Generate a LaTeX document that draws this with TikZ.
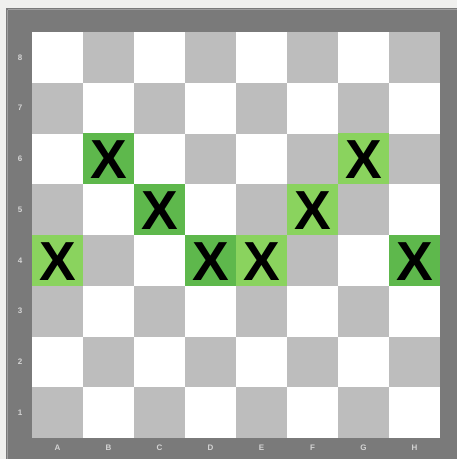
\documentclass[tikz,border=0pt]{standalone}
\usepackage{fontspec}
\setmainfont{Liberation Sans}
\definecolor{bgc}{HTML}{F0F0EE}
\definecolor{framec}{HTML}{7A7A7A}
\definecolor{frameline}{HTML}{A0A0A0}
\definecolor{darksq}{HTML}{BDBDBD}
\definecolor{lightsq}{HTML}{FFFFFF}
\definecolor{greenlight}{HTML}{8AD35E}
\definecolor{greendark}{HTML}{5EB84C}
\definecolor{labelc}{HTML}{D4D4D4}
\tikzset{
  sq/.style={inner sep=0pt, minimum width=51pt, minimum height=50.75pt, draw=none},
  xmark/.style={font=\fontsize{55}{55}\selectfont\bfseries, text=black, inner sep=0pt},
  rlabel/.style={font=\fontsize{8}{8}\selectfont\bfseries, text=labelc, inner sep=0pt},
}
\begin{document}
\begin{tikzpicture}[x=1pt,y=-1pt]
\useasboundingbox (0,0) rectangle (457,459);
\fill[bgc] (0,0) rectangle (457,459);
\fill[framec] (6,8) rectangle (457,459);
\draw[frameline, line width=1.2pt] (7.5,9.5) -- (457,9.5);
\draw[frameline, line width=1.2pt] (7.5,9.5) -- (7.5,459);
% squares
\foreach \c in {1,...,8}{
  \foreach \r in {1,...,8}{
    \pgfmathtruncatemacro{\myparity}{mod(\c+\r,2)}
    \ifnum\myparity=0
      \node[sq, fill=darksq] (s\c\r) at ({32+(\c-0.5)*51},{438-(\r-0.5)*50.75}) {};
    \else
      \node[sq, fill=lightsq] (s\c\r) at ({32+(\c-0.5)*51},{438-(\r-0.5)*50.75}) {};
    \fi
  }
}
% green squares (dark squares -> darker green)
\foreach \c/\r/\g in {2/6/greendark,7/6/greenlight,3/5/greendark,6/5/greenlight,1/4/greenlight,4/4/greendark,5/4/greenlight,8/4/greendark}{
  \fill[\g] (s\c\r.north west) rectangle (s\c\r.south east);
  \node[xmark] (x\c\r) at ([yshift=-1pt]s\c\r.center) {X};
}
% row labels
\foreach \r in {1,...,8}{
  \node[rlabel] (r\r) at (20,{438-(\r-0.5)*50.75}) {\r};
}
% column labels
\foreach \c/\l in {1/A,2/B,3/C,4/D,5/E,6/F,7/G,8/H}{
  \node[rlabel] (c\c) at ({32+(\c-0.5)*51},448) {\l};
}
\end{tikzpicture}
\end{document}
